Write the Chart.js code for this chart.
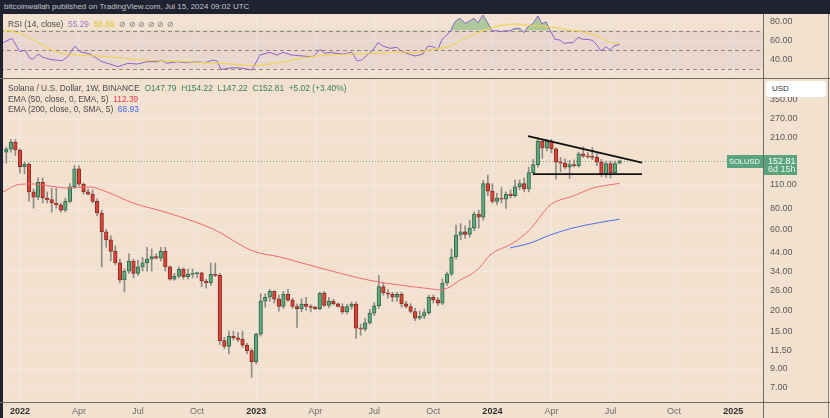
<!DOCTYPE html>
<html>
<head>
<meta charset="utf-8">
<script src="https://cdn.jsdelivr.net/npm/chart.js@4.4.1/dist/chart.umd.min.js"></script>
<style>
*{box-sizing:border-box}
html,body{margin:0;padding:0;width:830px;height:418px;overflow:hidden;background:#f2e1cf;font-family:"Liberation Sans",Arial,sans-serif}
.abs{position:absolute}
#top{left:0;top:0;width:830px;height:14px;background:#1f2230;color:#c3c6cd;font-size:8px;line-height:14px;padding-left:4px;white-space:nowrap}
.lg{position:absolute;left:8px;font-size:8.4px;color:#4a4a4a;white-space:nowrap;line-height:11px}
.g{color:#3c8159}
.ic{color:#777;font-size:7.5px;letter-spacing:2.5px}
#usd{left:766px;top:81px;width:60px;height:16px;background:#fff;border-radius:3px;font-size:8px;line-height:16px;padding-left:6px;color:#333}
</style>
</head>
<body>
<canvas id="rsi" class="abs" width="830" height="65" style="width:830px;height:65px;top:14px;left:0"></canvas>
<canvas id="main" class="abs" width="830" height="339" style="width:830px;height:339px;top:79px;left:0"></canvas>
<div id="top" class="abs">bitcoinwallah published on TradingView.com, Jul 15, 2024 09:02 UTC</div>
<div class="lg" style="top:19px">RSI (14, close)&nbsp; <span style="color:#9a7ad0">55.29</span>&nbsp; <span style="color:#e3c431">56.69</span>&nbsp; <span class="ic">⊘⊘⊘⊘⊘⊘</span></div>
<div class="lg" style="top:83px">Solana / U.S. Dollar, 1W, BINANCE&nbsp; <span class="g">O147.79&nbsp; H154.22&nbsp; L147.22&nbsp; C152.81&nbsp; +5.02 (+3.40%)</span></div>
<div class="lg" style="top:94px">EMA (50, close, 0, EMA, 5)&nbsp; <span style="color:#ef3b45">112.39</span></div>
<div class="lg" style="top:104px">EMA (200, close, 0, SMA, 5)&nbsp; <span style="color:#3f63f0">68.93</span></div>
<div id="usd" class="abs">USD</div>
<div class="abs" style="left:0;top:14px;width:3px;height:404px;background:#1f2230"></div>
<div class="abs" style="left:763px;top:14px;width:1px;height:404px;background:#6e6a66"></div>
<div class="abs" style="left:828px;top:14px;width:1px;height:404px;background:#8a847e"></div>
<div class="abs" style="left:0;top:78px;width:830px;height:1px;background:#6e6a66"></div>
<div class="abs" style="left:0;top:402px;width:830px;height:1px;background:#6e6a66"></div>
<script>
// ---- data (weekly candles, first week starting 2021-12-13) ----
const startWeek = '2021-12-13';
const opens = [172,179,197,177,141,146,100,93,114,92,
  90,86,84,78,88,107,137,111,100,97,
  88,75,58,52,44.5,38,30.2,34,39,33,
  36,38,40,41.5,40.5,44.5,36,30.5,31.7,35,
  31.5,32.5,32.8,33.2,29.7,29,32.5,32.1,13.2,12.2,
  14,13.7,13.4,12.4,11.5,9.9,14.4,22.6,23.8,25.8,
  23.2,21,24.8,22.9,21,20.4,21.7,21,20.7,20.4,
  25.2,21.3,22.6,21.8,21,19.5,21,21.7,15.6,15.4,
  16.8,19.2,21.2,27.5,25.3,24.8,23.8,24.8,21.8,21,
  19.6,17.9,18.4,19.3,23.8,23,22,28.9,32.7,41.2,
  55.6,58,56,61,74,71,112,101,88,92,
  90.5,97,95,107,112,104,130,145,200,182,
  200,180,150,148,140,145,143,168,163,161,
  160,150,127.5,147,130,147.79];
const highs = [184,205,204,180,150,148,104,121,121,100,
  105,105,86,92,112,143,143,113,104,103,
  91,78,60,55,48,40,35,43,40,39.5,
  41,47,46,43,47,47,36.5,33,36,35.5,
  35,35,33.5,33.5,30.5,38,38,33,13.8,15,
  15,14.8,15,12.7,11.8,14.6,25,25,26.5,26,
  24.5,25.8,26.5,23.5,21.8,23.3,23.8,21.5,21.1,25.5,
  25.8,23.8,23.2,22,21.8,21.6,22.3,22.4,16.5,17.8,
  20.2,22.2,32,29,26.5,25.5,25.5,25.5,22.5,21.8,
  20.5,19.8,20.3,24.5,24.6,23.8,30.5,33.5,46,63.7,
  65,63,68,76,78,117,126,112,98,106,
  100,103,118,118,121,140,156,210,206,205,
  205,183,160,157,154,155,172,185,171,183,
  168,156,152,152,152,154.22];
const lows = [148,172,164,129,128,88,80,90,86,86,
  76,80,76,76,86,105,108,97,96,86,
  72,36,47,39,37,29,25.6,33,31,32,
  34,34,34,40,39,34,30,30,31,30.5,
  30.5,31,31,27.5,27,28,31.5,12.5,11.8,11,
  13.3,13,12,11,8,9.6,14,20.8,22.5,22,
  19.7,20.5,22.5,20.5,15.8,19.5,19.9,19.5,20.1,20,
  21,20.6,21.4,20.8,19,19,20.2,13.6,14.2,15,
  16.5,18.5,20.5,24.5,23.5,22.5,22.5,20.8,20.5,19.2,
  17.3,17.5,17.8,18.8,22,21.3,21.5,28,32,40,
  52,53,54,59,61,68,95,86,84,86,
  80,92,93,103,100,100,126,140,158,175,
  170,119,132,137,120,140,140,160,158,155,
  143,123,122,121,129,147.22];
const closes = [179,197,177,141,146,100,93,114,92,90,
  86,84,78,88,107,137,111,100,97,88,
  75,58,52,44.5,38,30.2,34,39,33,36,
  38,40,41.5,40.5,44.5,36,30.5,31.7,35,31.5,
  32.5,32.8,33.2,29.7,29,32.5,32.1,13.2,12.2,14,
  13.7,13.4,12.4,11.5,9.9,14.4,22.6,23.8,25.8,23.2,
  21,24.8,22.9,21,20.4,21.7,21,20.7,20.4,25.2,
  21.3,22.6,21.8,21,19.5,21,21.7,15.6,15.4,16.8,
  19.2,21.2,27.5,25.3,24.8,23.8,24.8,21.8,21,19.6,
  17.9,18.4,19.3,23.8,23,22,28.9,32.7,41.2,55.6,
  58,56,61,74,71,112,101,88,92,90.5,
  97,95,107,112,104,130,145,200,182,200,
  180,150,148,140,145,143,168,163,161,160,
  150,127.5,147,130,147,152.81];

// EMA lines (week index, value)
const ema50Idx = [-0.73,3.02,5.88,9.62,13.36,18.42,22.17,27.89,35.37,45.5,54.3,60.25,68.39,80.71,86.66,93.92,95.46,97.66,99.87,102.07,104.27,106.47,111.53,115.28,119.24,120.34,124.74,129.14,135];
const ema50Val = [100,111,111.4,108.4,105.4,106.9,99.9,86,75.4,60.3,44.7,41.2,35.9,29.7,28.1,26.6,26.3,27.4,30.1,32.2,35.9,42.3,49.8,60,81.4,86,94.5,105.4,112.39];
const ema200Idx = [110.87,115.28,119.68,124.74,130.02,135];
const ema200Val = [46.6,49.8,55.6,61.2,65.5,68.93];

// RSI (14) and its MA
const rsiIdx = [-0.73,1.25,3.02,4.12,5.22,5.88,6.98,8.08,9.62,12.26,13.36,15.12,16.22,18.42,21.07,22.83,24.59,26.79,28.77,30.97,33.17,34.27,35.37,37.57,39.77,41.98,43.74,45.28,46.38,47.26,49.9,52.1,54.08,55.84,58.04,59.58,60.9,62.88,65.31,67.51,69.05,70.15,71.25,73.89,76.09,77.19,78.29,79.39,80.71,81.81,82.91,84.45,85.99,87.1,89.96,91.72,92.82,93.92,95.02,95.9,97,97.89,98.77,99.87,100.97,102.07,102.95,103.83,104.93,106.03,106.91,108.01,108.89,109.99,110.87,111.97,113.08,113.96,114.84,115.94,117.04,117.92,118.8,119.68,120.78,121.88,122.76,123.86,124.74,125.84,126.94,128.04,129.14,130.02,130.9,132,132.88,133.76,135];
const rsiVal = [57.2,61.8,47.7,49.5,40.7,39.7,45.3,41.8,39.7,38.2,41.8,53.7,47.7,45.3,37.2,34.7,31.9,35.5,34.7,37.2,37.2,38.9,35.5,37.2,36.1,37.2,36.1,38.9,38.2,29.1,30.9,30.2,28.4,44.2,47,44.2,47,44.2,43.2,42.4,50.2,46,47,45.3,47,38.2,38.9,44.2,49.5,57.2,53.7,51.3,52.3,47.7,43.2,45.3,53.7,53,50.2,60.7,65.3,70.5,79.3,82.8,77.6,80.3,82.8,78.2,86.3,77.6,69.8,69.8,68.7,69.8,69.8,72.3,72.3,67.7,74,77.6,85.3,76.8,79.3,70.5,60.7,60,56.5,57.2,57.2,62.8,60.7,60.7,59.3,54.7,48.7,53,49.5,53.7,55.29];
const rsiMaIdx = [-0.73,3.02,6.76,10.28,15.56,20.63,27.89,35.37,42.64,49.9,54.3,60.9,68.39,75.65,82.91,86.66,89.96,93.7,97.22,100.97,104.71,108.23,111.97,115.72,119.24,122.98,126.72,130.24,133.32,135];
const rsiMaVal = [70.5,67,58.2,48.7,44.2,43.2,39.7,37.9,36.5,34.7,33,37.2,43.2,45.3,46,47.7,46.5,50.2,53,61.8,69.8,74.7,76.8,75,74,71.3,68.7,64.2,57.2,56.69];
const rsiLevels = [70,50,30];

// drawn trendlines (triangle)
const upperTrendIdx = [114.84,139.93];
const upperTrendVal = [214,149];
const lowerTrendIdx = [115.94,139.93];
const lowerTrendVal = [127.5,127.5];

// axes
const xTickIdx = [3,16,29,42,55,68,81,94,107,120,133,147,160];
const xTickLabels = ['2022','Apr','Jul','Oct','2023','Apr','Jul','Oct','2024','Apr','Jul','Oct','2025'];
const priceTicks = [7,9,11.5,15,20,26,34,44,60,80,110,210,270,350];
const rsiTicks = [40,60,80];

// ---- styling / config ----
Chart.defaults.font.family = '"Liberation Sans", Arial, sans-serif';
const xMin = -1.387, xMax = 166.57;
const gridColor = 'rgba(240,236,234,0.7)';
const UP_BG = '#63a680', UP_BD = '#2e6b49', DN_BG = '#d6473b', DN_BD = '#8a2a22', WICK = '#8f8b88';
const labelOf = v => { const k = xTickIdx.indexOf(v); return k >= 0 ? xTickLabels[k] : ''; };
const isYear = c => /^\d{4}$/.test(labelOf(c.tick ? c.tick.value : null));
const up = i => closes[i] >= opens[i];
const pts = (xs, ys) => xs.map((x, k) => ({x, y: ys[k]}));
const noPadV = s => { s.paddingTop = 0; s.paddingBottom = 0; };
const noPadH = s => { s.paddingLeft = 0; s.paddingRight = 0; };

const xAxisCommon = {
  type: 'linear', min: xMin, max: xMax, offset: false, bounds: 'data',
  afterBuildTicks: s => { s.ticks = xTickIdx.map(v => ({value: v})); },
  grid: {color: gridColor, drawTicks: false, offset: false},
  border: {display: false}
};

const rsiPlugin = {
  id: 'rsiBands',
  beforeDatasetsDraw(chart) {
    const {ctx, chartArea: a, scales: {y}} = chart;
    const p = rsiLevels.map(v => y.getPixelForValue(v));
    ctx.save();
    ctx.fillStyle = 'rgba(126,87,194,0.08)';
    ctx.fillRect(a.left, p[0], a.right - a.left, p[2] - p[0]);
    ctx.strokeStyle = '#8e8682';
    ctx.lineWidth = 1;
    ctx.setLineDash([4, 3]);
    p.forEach(py => { const yy = Math.round(py) + 0.5; ctx.beginPath(); ctx.moveTo(a.left, yy); ctx.lineTo(a.right, yy); ctx.stroke(); });
    ctx.restore();
  }
};

new Chart(document.getElementById('rsi'), {
  type: 'line',
  data: {datasets: [
    {data: pts(rsiMaIdx, rsiMaVal), borderColor: '#f1d23d', borderWidth: 1, pointRadius: 0, cubicInterpolationMode: 'monotone', fill: false},
    {data: pts(rsiIdx, rsiVal), borderColor: '#8a63c9', borderWidth: 1, pointRadius: 0, tension: 0,
     fill: {target: {value: 70}, above: 'rgba(88,170,90,0.45)', below: 'rgba(0,0,0,0)'}}
  ]},
  options: {
    responsive: false, animation: false, events: [],
    layout: {padding: 0},
    plugins: {legend: {display: false}, tooltip: {enabled: false}},
    scales: {
      x: Object.assign({}, xAxisCommon, {ticks: {display: false}, afterFit: s => { s.height = 0; noPadH(s); }}),
      y: {position: 'right', min: 19, max: 87.4, bounds: 'data',
          afterBuildTicks: s => { s.ticks = rsiTicks.map(v => ({value: v})); },
          ticks: {autoSkip: false, padding: 7, color: '#5a5a5a', font: {size: 9}, callback: v => Number(v).toFixed(2)},
          grid: {color: gridColor, drawTicks: false}, border: {display: false},
          afterFit: s => { s.width = 67; noPadV(s); }}
    }
  },
  plugins: [rsiPlugin]
});

const pricePlugin = {
  id: 'priceTag',
  beforeDatasetsDraw(chart) {
    const {ctx, chartArea: a, scales: {y}} = chart;
    const py = Math.round(y.getPixelForValue(closes[closes.length - 1])) + 0.5;
    ctx.save();
    ctx.strokeStyle = 'rgba(90,140,110,0.75)';
    ctx.lineWidth = 1;
    ctx.setLineDash([1, 2]);
    ctx.beginPath(); ctx.moveTo(a.left, py); ctx.lineTo(a.right, py); ctx.stroke();
    ctx.restore();
  },
  afterDraw(chart) {
    const {ctx, chartArea: a, scales: {y}} = chart;
    const last = closes[closes.length - 1];
    const py = Math.round(y.getPixelForValue(last));
    ctx.save();
    ctx.fillStyle = '#5aa37c';
    ctx.fillRect(a.right + 1, py - 6, 33, 20);
    ctx.fillRect(a.right - 36, py - 6, 36, 13);
    ctx.fillStyle = '#ffffff';
    ctx.font = '9px "Liberation Sans", Arial, sans-serif';
    ctx.textBaseline = 'middle';
    ctx.fillText(last.toFixed(2), a.right + 5, py + 0.5);
    ctx.fillStyle = '#e8f3ec';
    ctx.fillText('6d 15h', a.right + 5, py + 9);
    ctx.fillStyle = '#ffffff';
    ctx.font = '7.5px "Liberation Sans", Arial, sans-serif';
    ctx.fillText('SOLUSD', a.right - 34, py + 0.5);
    ctx.restore();
  }
};

const idx = closes.map((_, i) => i);
new Chart(document.getElementById('main'), {
  type: 'bar',
  data: {datasets: [
    {type: 'line', data: pts(upperTrendIdx, upperTrendVal), borderColor: '#111', borderWidth: 1.8, pointRadius: 0, order: 0},
    {type: 'line', data: pts(lowerTrendIdx, lowerTrendVal), borderColor: '#111', borderWidth: 1.8, pointRadius: 0, order: 0},
    {type: 'line', data: pts(ema50Idx, ema50Val), borderColor: '#f06a6c', borderWidth: 1, pointRadius: 0, cubicInterpolationMode: 'monotone', order: 1},
    {type: 'line', data: pts(ema200Idx, ema200Val), borderColor: '#4d70ee', borderWidth: 1, pointRadius: 0, cubicInterpolationMode: 'monotone', order: 1},
    {type: 'bar', data: idx.map(i => ({x: i, y: [lows[i], highs[i]]})), backgroundColor: WICK, barThickness: 1, grouped: false, order: 4},
    {type: 'bar', data: idx.map(i => ({x: i, y: [opens[i], closes[i]]})),
     backgroundColor: c => up(c.dataIndex) ? UP_BG : DN_BG,
     borderColor: c => up(c.dataIndex) ? UP_BD : DN_BD,
     borderWidth: 1, borderSkipped: false, barThickness: 3.6, minBarLength: 1.2, grouped: false, order: 3}
  ]},
  options: {
    responsive: false, animation: false, events: [],
    layout: {padding: {top: 1, left: 0, right: 0, bottom: 0}},
    plugins: {legend: {display: false}, tooltip: {enabled: false}},
    scales: {
      x: Object.assign({}, xAxisCommon, {
        ticks: {autoSkip: false, maxRotation: 0, padding: 4,
          color: c => isYear(c) ? '#2e2e2e' : '#6b6b6b',
          font: c => ({size: 9, weight: isYear(c) ? 'bold' : 'normal'}),
          callback: v => labelOf(v)},
        afterFit: s => { s.height = 16; noPadH(s); }}),
      y: {type: 'logarithmic', position: 'right', min: 5.715, max: 459.4, bounds: 'data',
          afterBuildTicks: s => { s.ticks = priceTicks.map(v => ({value: v})); },
          ticks: {autoSkip: false, padding: 7, color: '#5a5a5a', font: {size: 9}, callback: v => Number(v).toFixed(2)},
          grid: {color: gridColor, drawTicks: false}, border: {display: false},
          afterFit: s => { s.width = 67; noPadV(s); }}
    }
  },
  plugins: [pricePlugin]
});
</script>
</body>
</html>
